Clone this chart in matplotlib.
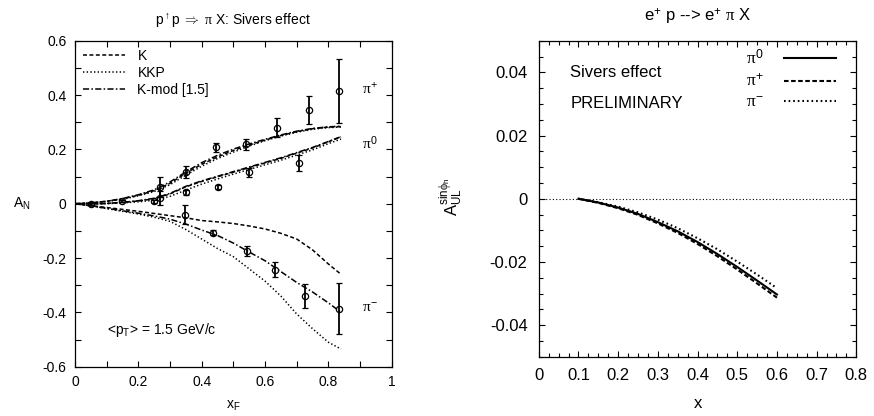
import matplotlib
matplotlib.use("Agg")
import matplotlib.pyplot as plt
from matplotlib.ticker import MultipleLocator, FuncFormatter

plt.rcParams['font.family'] = ['Liberation Sans', 'DejaVu Sans']
plt.rcParams['mathtext.fontset'] = 'custom'
plt.rcParams['mathtext.rm'] = 'Liberation Sans'
plt.rcParams['mathtext.it'] = 'Liberation Serif'
plt.rcParams['mathtext.bf'] = 'Liberation Sans:bold'

# ---------------- Left panel data ----------------
xf_grid = [0.0, 0.05, 0.10, 0.15, 0.20, 0.25, 0.30, 0.35, 0.40, 0.45, 0.50, 0.55, 0.60, 0.65, 0.70, 0.75, 0.80, 0.84]

pip_K    = [0, 0.003, 0.009, 0.018, 0.031, 0.048, 0.075, 0.112, 0.145, 0.172, 0.196, 0.216, 0.234, 0.251, 0.265, 0.276, 0.282, 0.284]
pip_KKP  = [0, 0.003, 0.008, 0.016, 0.029, 0.045, 0.070, 0.105, 0.138, 0.166, 0.190, 0.212, 0.232, 0.249, 0.263, 0.274, 0.280, 0.282]
pip_Kmod = [0, 0.003, 0.009, 0.019, 0.033, 0.051, 0.080, 0.117, 0.151, 0.178, 0.201, 0.220, 0.237, 0.253, 0.267, 0.277, 0.283, 0.285]

pi0_K    = [0, -0.001, 0.001, 0.005, 0.010, 0.018, 0.036, 0.062, 0.082, 0.099, 0.116, 0.133, 0.150, 0.167, 0.186, 0.205, 0.228, 0.246]
pi0_KKP  = [0, -0.001, 0.000, 0.003, 0.007, 0.013, 0.027, 0.050, 0.072, 0.091, 0.109, 0.126, 0.143, 0.160, 0.179, 0.198, 0.221, 0.238]
pi0_Kmod = [0, -0.001, 0.001, 0.005, 0.011, 0.020, 0.038, 0.064, 0.084, 0.101, 0.118, 0.135, 0.152, 0.169, 0.188, 0.207, 0.229, 0.247]

pim_K    = [0, -0.007, -0.014, -0.021, -0.028, -0.036, -0.044, -0.052, -0.062, -0.067, -0.073, -0.082, -0.093, -0.109, -0.130, -0.170, -0.222, -0.260]
pim_KKP  = [0, -0.008, -0.018, -0.028, -0.038, -0.050, -0.065, -0.095, -0.130, -0.165, -0.195, -0.240, -0.285, -0.340, -0.406, -0.460, -0.510, -0.535]
pim_Kmod = [0, -0.008, -0.017, -0.026, -0.035, -0.045, -0.057, -0.075, -0.097, -0.117, -0.145, -0.178, -0.210, -0.250, -0.290, -0.325, -0.365, -0.400]

pip_x   = [0.05, 0.15, 0.268, 0.35, 0.445, 0.54, 0.637, 0.74, 0.834]
pip_y   = [0.000, 0.010, 0.063, 0.117, 0.208, 0.218, 0.280, 0.346, 0.415]
pip_err = [0.004, 0.005, 0.037, 0.021, 0.017, 0.020, 0.035, 0.052, 0.118]

pi0_x   = [0.25, 0.268, 0.35, 0.45, 0.55, 0.707]
pi0_y   = [0.009, 0.020, 0.042, 0.062, 0.115, 0.151]
pi0_err = [0.005, 0.026, 0.010, 0.008, 0.018, 0.030]

pim_x   = [0.347, 0.437, 0.542, 0.632, 0.727, 0.832]
pim_y   = [-0.040, -0.107, -0.173, -0.243, -0.339, -0.387]
pim_err = [0.034, 0.010, 0.018, 0.027, 0.045, 0.094]

legend_labels = ["K", "KKP", "K-mod [1.5]"]

# ---------------- Right panel data ----------------
x_grid  = [0.10, 0.15, 0.20, 0.25, 0.30, 0.35, 0.40, 0.45, 0.50, 0.55, 0.60]
aul_pi0 = [0, -0.0012, -0.0028, -0.0048, -0.0074, -0.0103, -0.0137, -0.0175, -0.0216, -0.0259, -0.0303]
aul_pip = [0, -0.0013, -0.0030, -0.0051, -0.0078, -0.0108, -0.0143, -0.0182, -0.0224, -0.0268, -0.0313]
aul_pim = [0, -0.0011, -0.0025, -0.0043, -0.0066, -0.0093, -0.0125, -0.0160, -0.0199, -0.0240, -0.0283]

DASH = (0, (2.6, 1.6))
DOT = (0, (0.9, 1.5))
DASHDOT = (0, (4.0, 1.5, 1.0, 1.5))

fig = plt.figure(figsize=(8.74, 4.16), dpi=100)
axL = fig.add_axes([0.0858, 0.1185, 0.3624, 0.7837])
axR = fig.add_axes([0.6164, 0.1425, 0.3634, 0.7595])

# Left panel
lw = 1.1
l1, = axL.plot(xf_grid, pip_K, color='black', lw=lw, ls=DASH)
l2, = axL.plot(xf_grid, pip_KKP, color='black', lw=lw, ls=DOT)
l3, = axL.plot(xf_grid, pip_Kmod, color='black', lw=lw, ls=DASHDOT)
axL.plot(xf_grid, pi0_K, color='black', lw=lw, ls=DASH)
axL.plot(xf_grid, pi0_KKP, color='black', lw=lw, ls=DOT)
axL.plot(xf_grid, pi0_Kmod, color='black', lw=lw, ls=DASHDOT)
axL.plot(xf_grid, pim_K, color='black', lw=lw, ls=DASH)
axL.plot(xf_grid, pim_KKP, color='black', lw=lw, ls=DOT)
axL.plot(xf_grid, pim_Kmod, color='black', lw=lw, ls=DASHDOT)

for xs, ys, es in [(pip_x, pip_y, pip_err), (pi0_x, pi0_y, pi0_err), (pim_x, pim_y, pim_err)]:
    axL.errorbar(xs, ys, yerr=es, fmt='o', mfc='none', mec='black', ms=4.5, mew=0.9,
                 ecolor='black', elinewidth=1.3, capsize=2.2, capthick=1.3, zorder=5)

axL.set_xlim(0, 1)
axL.set_ylim(-0.6, 0.6)
axL.xaxis.set_major_locator(MultipleLocator(0.2))
axL.xaxis.set_minor_locator(MultipleLocator(0.1))
axL.yaxis.set_major_locator(MultipleLocator(0.2))
axL.yaxis.set_minor_locator(MultipleLocator(0.1))
axL.xaxis.set_major_formatter(FuncFormatter(lambda v, p: ("%g" % round(v, 2))))
axL.yaxis.set_major_formatter(FuncFormatter(lambda v, p: ("%g" % round(v, 2))))
axL.tick_params(which='both', direction='in', top=True, right=True, labelsize=10, width=0.8, pad=6)
axL.tick_params(which='major', length=4)
axL.tick_params(which='minor', length=4)
for s in axL.spines.values():
    s.set_linewidth(0.9)

axL.set_title(r"p$^{\uparrow}$p $\Rightarrow$ $\pi$ X: Sivers effect", fontsize=10, pad=12)
axL.set_xlabel(r"x$_\mathrm{F}$", fontsize=10)
axL.xaxis.set_label_coords(0.5, -0.1)
axL.set_ylabel(r"A$_\mathrm{N}$", fontsize=10, rotation=0, va='center', ha='center')
axL.yaxis.set_label_coords(-0.167, 0.5)

axL.legend([l1, l2, l3], legend_labels, loc='upper left', bbox_to_anchor=(0.0, 1.0),
           frameon=False, fontsize=10, handlelength=3.0, handletextpad=0.9,
           labelspacing=0.2, borderaxespad=0.2)

axL.text(0.905, 0.40, r"$\pi^{+}$", fontsize=11)
axL.text(0.905, 0.20, r"$\pi^{0}$", fontsize=11)
axL.text(0.905, -0.40, r"$\pi^{-}$", fontsize=11)
axL.text(0.1, -0.48, r"<p$_\mathrm{T}$> = 1.5 GeV/c", fontsize=10)

# Right panel
axR.axhline(0, color='black', lw=0.8, ls=(0, (1, 2)))
r1, = axR.plot(x_grid, aul_pi0, color='black', lw=1.5, ls='-')
r2, = axR.plot(x_grid, aul_pip, color='black', lw=1.5, ls=(0, (2.2, 1.2)))
r3, = axR.plot(x_grid, aul_pim, color='black', lw=1.5, ls=(0, (0.8, 1.4)))

axR.set_xlim(0, 0.8)
axR.set_ylim(-0.05, 0.05)
axR.xaxis.set_major_locator(MultipleLocator(0.1))
axR.xaxis.set_minor_locator(MultipleLocator(0.025))
axR.yaxis.set_major_locator(MultipleLocator(0.02))
axR.yaxis.set_minor_locator(MultipleLocator(0.005))
axR.xaxis.set_major_formatter(FuncFormatter(lambda v, p: ("%g" % round(v, 3))))
axR.yaxis.set_major_formatter(FuncFormatter(lambda v, p: ("%g" % round(v, 3))))
axR.tick_params(which='both', direction='in', top=True, right=True, labelsize=12, width=0.8, pad=8)
axR.tick_params(which='major', length=4)
axR.tick_params(which='minor', length=3)
for s in axR.spines.values():
    s.set_linewidth(0.9)

axR.set_title(r"e$^{+}$ p --> e$^{+}$ $\pi$ X", fontsize=12, pad=14)
axR.set_xlabel("x", fontsize=12)
axR.xaxis.set_label_coords(0.5, -0.125)
axR.set_ylabel(r"A$_\mathrm{UL}^{\mathrm{sin}\phi_\mathrm{h}}$", fontsize=12)
axR.yaxis.set_label_coords(-0.235, 0.505)

axR.legend([r1, r2, r3], [r"$\pi^{0}$", r"$\pi^{+}$", r"$\pi^{-}$"], loc='upper right',
           bbox_to_anchor=(0.97, 1.01),
           frameon=False, fontsize=12.5, handlelength=3.0, handletextpad=1.2,
           labelspacing=0.3, markerfirst=False, borderaxespad=0.2)

axR.text(0.08, 0.040, "Sivers effect", fontsize=12, va='center')
axR.text(0.08, 0.030, "PRELIMINARY", fontsize=12, va='center')

fig.savefig("out.png", dpi=100)
